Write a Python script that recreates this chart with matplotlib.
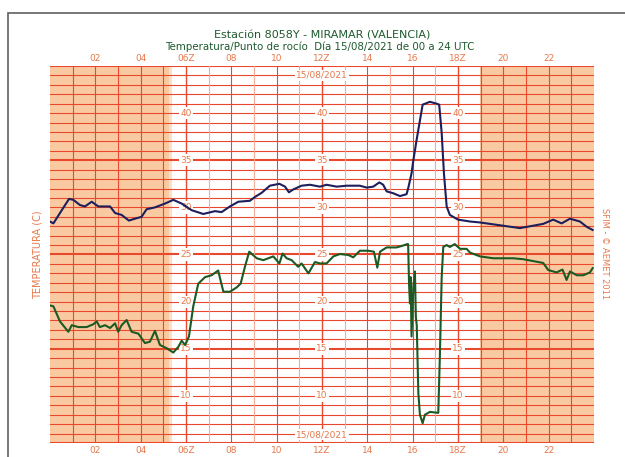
import matplotlib
matplotlib.use("Agg")
import matplotlib.pyplot as plt
from matplotlib.patches import Rectangle

# temperature (hour UTC, deg C)
temp_hours = [0.0, 0.15, 0.44, 0.84, 1.03, 1.32, 1.54, 1.84, 2.13, 2.65, 2.87, 3.16, 3.48,
              3.75, 4.04, 4.26, 4.63, 5.07, 5.44, 5.81, 6.25, 6.76, 7.28, 7.57, 7.94, 8.31,
              8.82, 9.04, 9.34, 9.70, 10.12, 10.37, 10.54, 10.73, 11.10, 11.47, 11.91, 12.2,
              12.65, 13.09, 13.67, 13.97, 14.26, 14.53, 14.70, 14.85, 15.14, 15.44, 15.73,
              15.80, 15.95, 16.03, 16.17, 16.44, 16.76, 17.06, 17.17, 17.28, 17.38, 17.5,
              17.64, 18.0, 18.53, 18.97, 19.85, 20.73, 21.76, 22.2, 22.57, 22.94, 23.38,
              23.67, 23.94]
temp_values = [28.5, 28.3, 29.4, 30.9, 30.8, 30.25, 30.1, 30.6, 30.1, 30.1, 29.4, 29.2, 28.6,
               28.8, 29.0, 29.8, 30.0, 30.4, 30.8, 30.4, 29.7, 29.3, 29.6, 29.5, 30.1, 30.6,
               30.7, 31.1, 31.55, 32.3, 32.5, 32.2, 31.6, 31.9, 32.3, 32.4, 32.2, 32.4,
               32.2, 32.3, 32.3, 32.1, 32.2, 32.65, 32.4, 31.7, 31.5, 31.2, 31.4,
               32.0, 33.6, 35.0, 37.1, 40.9, 41.2, 41.0, 40.9, 37.9, 33.6, 30.1,
               29.2, 28.7, 28.5, 28.4, 28.1, 27.8, 28.25, 28.7, 28.3, 28.8, 28.5,
               27.95, 27.6]

# dew point (hour UTC, deg C)
dew_hours = [0.0, 0.15, 0.44, 0.81, 0.96, 1.25, 1.62, 1.91, 2.06, 2.2, 2.43, 2.65, 2.87,
             3.01, 3.16, 3.38, 3.6, 3.9, 4.19, 4.41, 4.63, 4.85, 5.15, 5.44, 5.66, 5.81,
             5.96, 6.13, 6.32, 6.54, 6.84, 7.13, 7.42, 7.55, 7.65, 7.94, 8.23, 8.41, 8.6,
             8.79, 9.12, 9.41, 9.85, 10.12, 10.26, 10.44, 10.66, 10.95, 11.1, 11.4, 11.69,
             11.91, 12.2, 12.5, 12.79, 13.16, 13.38, 13.67, 14.04, 14.29, 14.44, 14.56,
             14.85, 15.29, 15.51, 15.76, 15.80, 15.84, 15.88, 15.91, 15.95, 16.03, 16.1,
             16.14, 16.18, 16.25, 16.32, 16.44, 16.54, 16.76, 17.13, 17.2, 17.28, 17.35,
             17.5, 17.64, 17.86, 18.09, 18.38, 18.53, 18.97, 19.56, 20.44, 20.88, 21.76,
             21.98, 22.35, 22.61, 22.79, 22.94, 23.24, 23.53, 23.82, 23.94]
dew_values = [19.6, 19.5, 17.9, 16.8, 17.5, 17.3, 17.3, 17.6, 17.9, 17.3, 17.5, 17.2, 17.7,
              16.8, 17.5, 18.05, 16.8, 16.6, 15.6, 15.75, 16.9, 15.4, 15.05, 14.6, 15.2, 15.85,
              15.4, 16.3, 19.5, 21.9, 22.6, 22.8, 23.3, 22.0, 21.05, 21.05, 21.5, 21.9, 23.7,
              25.3, 24.6, 24.4, 24.8, 24.05, 25.1, 24.6, 24.4, 23.7, 24.05, 23.0, 24.2,
              24.05, 24.05, 24.8, 25.05, 24.95, 24.7, 25.4, 25.4, 25.3, 23.6, 25.3,
              25.75, 25.75, 25.9, 26.1, 26.1, 21.9, 19.8, 22.6, 16.3, 21.6, 23.2,
              18.4, 17.5, 10.3, 8.0, 7.1, 8.0, 8.3, 8.2, 14.2, 22.6, 25.8,
              26.0, 25.8, 26.1, 25.6, 25.6, 25.2, 24.8, 24.6, 24.6, 24.5, 24.1,
              23.35, 23.1, 23.4, 22.3, 23.2, 22.8, 22.8, 23.1, 23.55]

hour_ticks = [2, 4, 6, 8, 10, 12, 14, 16, 18, 20, 22]
hour_labels = ["02", "04", "06Z", "08", "10", "12Z", "14", "16", "18Z", "20", "22"]
value_ticks = [10, 15, 20, 25, 30, 35, 40]
night_end = 5.25
night_start = 18.95

RED = "#e8482c"
LIGHT = "#f3aa98"
ORANGE_TXT = "#e8784a"
NIGHT = "#f9caa2"

fig = plt.figure(figsize=(6.25, 4.57), dpi=100)
ax = fig.add_axes([50 / 625, 1 - 443 / 457, 544 / 625, 377 / 457])
ax.set_xlim(0, 24)
ax.set_ylim(5, 45)

# night shading
ax.axvspan(0, night_end, color=NIGHT, lw=0, zorder=0)
ax.axvspan(night_end, night_end + 0.15, color="#fbe0c8", lw=0, zorder=0)
ax.axvspan(night_start, 24, color=NIGHT, lw=0, zorder=0)

# grid
for t in range(5, 46):
    ax.axhline(t, color=RED, lw=1.5 if t % 10 == 5 else 0.8, zorder=1)
for h in range(1, 24):
    night = h < night_end or h > night_start
    c = RED if (h % 2 == 0 or night) else LIGHT
    ax.axvline(h, color=c, lw=1.0 if h % 6 == 0 else 0.8, zorder=1)

# value labels along the 06Z/12Z/18Z lines
for h in (6, 12, 18):
    for v in value_ticks:
        ax.text(h, v, str(v), color=ORANGE_TXT, fontsize=6.5, ha="center", va="center",
                zorder=2, bbox=dict(facecolor="white", edgecolor="none", pad=1.2))
for y in (44, 5.9):
    ax.text(12, y, "15/08/2021", color=ORANGE_TXT, fontsize=6.5, ha="center", va="center",
            zorder=2, bbox=dict(facecolor="white", edgecolor="none", pad=1.0))

ax.plot(temp_hours, temp_values, color="#1c1f5c", lw=1.5, zorder=3)
ax.plot(dew_hours, dew_values, color="#1b5a22", lw=1.5, zorder=3)

ax.set_xticks(hour_ticks)
ax.set_xticklabels(hour_labels)
ax.set_yticks([])
ax.tick_params(axis="x", length=0, labelsize=6.5, labelcolor=ORANGE_TXT, pad=2,
               top=True, labeltop=True, bottom=True, labelbottom=True)
for s in ax.spines.values():
    s.set_visible(False)

fig.text(322 / 625, 1 - 36 / 457, "Estación 8058Y - MIRAMAR (VALENCIA)", color="#1f5a2e",
         fontsize=8, ha="center", va="center")
fig.text(320 / 625, 1 - 47 / 457, "Temperatura/Punto de rocío  Día 15/08/2021 de 00 a 24 UTC",
         color="#1f5a2e", fontsize=7.4, ha="center", va="center")
fig.text(38 / 625, 1 - 255 / 457, "TEMPERATURA (C)", color=ORANGE_TXT, fontsize=7,
         rotation=90, ha="center", va="center")
fig.text(605 / 625, 1 - 254 / 457, "SFIM - © AEMET 2011", color=ORANGE_TXT, fontsize=6,
         rotation=-90, ha="center", va="center")

# outer frame (cut off at right and bottom)
fig.patches.append(Rectangle((8 / 625, -0.1), 1.2, 1 - 13 / 457 + 0.1, transform=fig.transFigure,
                             fill=False, edgecolor="#606060", lw=1.2))

fig.savefig("out.png", dpi=100)
